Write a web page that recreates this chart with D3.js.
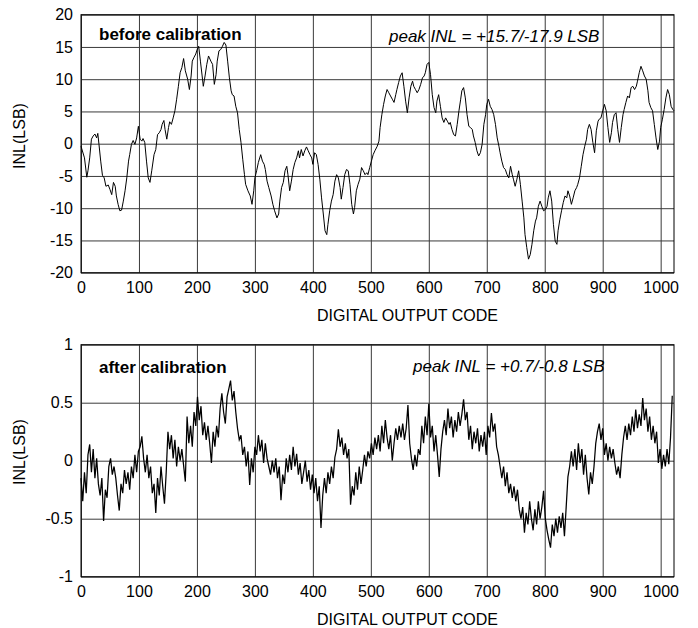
<!DOCTYPE html>
<html>
<head>
<meta charset="utf-8">
<script src="https://cdn.jsdelivr.net/npm/d3@7"></script>
<style>
  body { margin: 0; background: #fff; }
  svg { display: block; font-family: "Liberation Sans", Arial, sans-serif; }
</style>
</head>
<body>
<svg id="chart" width="698" height="628"></svg>
<script>
// INL before calibration, [code, LSB]
var beforeCal = [
  [0,-0.4],[6,-2.2],[10,-5.2],[12,-4.2],[15,-2.2],[18,0.7],[21,1.2],[24,1.5],[27,0.9],[29,1.6],
  [31,-0.1],[34,-2.7],[37,-4.9],[40,-5.3],[43,-6.6],[47,-6.4],[50,-7.1],[53,-7.9],[56,-6.0],[59,-6.6],
  [61,-8.1],[64,-9.4],[67,-10.4],[70,-10.3],[73,-8.9],[76,-7.3],[79,-5.3],[82,-2.7],[84,-1.7],[87,-0.1],
  [90,0.5],[93,-0.1],[96,0.9],[99,2.7],[102,0.7],[105,0.4],[107,0.8],[110,0.2],[113,-2.7],[116,-5.3],
  [119,-6.0],[122,-4.2],[126,-1.7],[129,-0.9],[132,1.4],[135,1.7],[138,2.2],[140,3.0],[143,3.6],[145,2.2],
  [148,0.7],[151,2.5],[153,3.4],[156,3.0],[159,4.0],[162,5.1],[165,6.9],[168,8.9],[171,11.0],[174,11.8],
  [177,13.2],[180,11.3],[184,10.0],[187,8.4],[190,10.5],[192,12.8],[195,13.4],[198,13.9],[200,14.5],[203,15.1],
  [206,12.8],[209,10.5],[211,8.9],[214,10.5],[217,12.3],[220,13.6],[224,12.8],[227,12.3],[230,9.2],[233,10.7],
  [235,12.8],[238,14.4],[241,14.6],[244,15.1],[247,15.7],[250,15.3],[253,12.8],[256,10.2],[259,8.2],[261,7.6],
  [264,7.4],[267,5.8],[270,4.8],[273,2.2],[276,0.2],[279,-2.4],[282,-4.8],[284,-6.3],[288,-7.3],[292,-8.1],
  [295,-9.4],[298,-7.3],[300,-5.3],[303,-4.2],[306,-2.9],[310,-1.7],[313,-2.7],[316,-3.2],[318,-4.0],[321,-5.8],
  [324,-6.8],[328,-8.1],[331,-9.4],[334,-10.4],[338,-11.5],[341,-10.9],[343,-8.9],[346,-6.8],[349,-6.0],[352,-4.2],
  [355,-3.5],[357,-4.8],[360,-7.3],[363,-5.8],[366,-4.0],[369,-2.9],[372,-2.2],[375,-1.1],[377,-2.2],[380,-0.9],
  [383,-1.9],[386,-1.1],[389,-0.5],[392,-1.1],[395,-1.7],[398,-2.2],[400,-3.2],[403,-1.4],[406,-1.7],[409,-3.2],
  [412,-5.5],[415,-8.4],[418,-10.9],[421,-13.5],[424,-14.1],[426,-12.5],[429,-10.4],[432,-8.9],[435,-7.9],[438,-5.8],
  [441,-4.8],[444,-5.3],[447,-6.8],[449,-8.6],[452,-6.8],[455,-4.8],[458,-4.0],[461,-4.2],[464,-6.3],[467,-9.4],
  [470,-10.9],[472,-9.9],[475,-7.3],[478,-6.3],[481,-5.5],[484,-3.7],[487,-4.2],[490,-4.8],[493,-4.5],[495,-4.8],
  [498,-3.7],[501,-2.7],[504,-1.7],[507,-1.1],[511,-0.4],[514,0.4],[516,2.5],[519,4.5],[522,6.1],[525,7.4],
  [528,8.4],[531,7.9],[534,7.4],[537,6.9],[540,6.4],[543,7.6],[545,8.4],[548,9.5],[551,10.5],[554,11.0],
  [557,8.9],[560,6.6],[563,4.8],[566,7.1],[569,8.9],[572,9.7],[574,8.9],[577,8.4],[580,7.9],[583,8.4],
  [586,9.2],[589,10.2],[592,10.5],[594,11.0],[597,12.3],[600,12.6],[603,10.7],[606,7.6],[609,5.6],[612,4.8],
  [614,6.6],[617,7.6],[620,5.8],[623,4.0],[626,3.3],[629,4.0],[632,3.5],[635,3.0],[637,3.3],[640,2.2],
  [643,1.4],[646,1.2],[649,3.0],[652,5.1],[655,6.9],[657,8.2],[660,8.7],[663,7.1],[666,4.5],[669,2.7],
  [672,2.5],[675,2.2],[677,1.2],[680,0.2],[683,-1.1],[686,-1.9],[689,-1.4],[692,-0.1],[695,3.0],[698,4.5],
  [700,6.1],[703,6.9],[706,5.8],[709,5.3],[712,4.5],[715,3.0],[718,0.9],[721,-0.4],[723,-1.4],[726,-2.7],
  [729,-3.7],[732,-4.0],[735,-4.8],[738,-5.3],[741,-3.5],[744,-4.8],[746,-5.5],[749,-6.6],[752,-5.5],[755,-4.2],
  [758,-6.3],[761,-8.9],[764,-11.5],[766,-14.1],[769,-16.1],[772,-17.9],[775,-17.2],[778,-15.6],[781,-13.5],[784,-12.0],
  [786,-11.5],[789,-9.7],[792,-8.9],[795,-9.7],[798,-10.4],[801,-10.2],[804,-9.7],[806,-8.4],[809,-7.3],[812,-8.9],
  [815,-12.5],[818,-15.1],[821,-15.6],[823,-13.5],[826,-11.8],[829,-10.4],[832,-9.1],[835,-8.1],[838,-8.4],[840,-7.3],
  [843,-8.1],[846,-9.4],[849,-8.4],[852,-7.3],[855,-6.8],[857,-6.3],[860,-5.3],[863,-3.5],[866,-1.7],[869,-0.4],
  [872,0.7],[874,2.2],[877,3.0],[880,2.2],[883,0.2],[886,-1.4],[889,2.0],[892,3.5],[894,3.8],[897,4.0],
  [900,5.1],[903,6.1],[906,5.1],[909,2.5],[912,0.2],[915,1.7],[917,3.3],[920,4.5],[923,4.8],[926,2.2],
  [929,0.2],[932,2.5],[935,4.5],[937,5.3],[940,6.4],[943,7.4],[946,7.1],[949,8.7],[952,8.9],[955,8.4],
  [958,8.9],[960,9.7],[963,11.0],[966,12.0],[969,11.3],[972,10.5],[975,10.0],[978,8.2],[980,6.4],[983,5.6],
  [986,5.1],[989,3.0],[992,0.9],[995,-0.9],[998,0.4],[1000,2.5],[1003,3.8],[1006,5.3],[1009,7.1],[1012,8.4],
  [1015,7.6],[1018,5.8],[1021,5.3],[1023,5.1]
];

// INL after calibration, one value every 3 codes (0, 3, 6, ...)
var afterStep = 3;
var afterCal = [
  -0.15,-0.35,-0.10,-0.28,0.05,0.14,-0.10,0.10,-0.15,0.02,
  -0.20,-0.30,-0.15,-0.52,-0.25,-0.32,-0.05,0.02,-0.12,-0.05,
  -0.15,-0.30,-0.43,-0.20,-0.28,-0.08,-0.20,-0.10,-0.25,-0.05,
  -0.15,0.05,-0.10,0.08,0.12,0.21,0.02,-0.10,0.05,-0.15,
  -0.05,-0.28,-0.20,-0.45,-0.15,-0.30,-0.05,-0.22,-0.37,-0.10,
  0.25,0.10,0.22,0.02,0.18,-0.05,0.12,0.00,0.10,-0.04,
  -0.18,0.38,0.15,0.30,0.12,0.42,0.30,0.55,0.35,0.47,
  0.22,0.33,0.18,0.30,0.15,-0.02,0.25,0.12,0.30,0.20,
  0.45,0.58,0.42,0.32,0.55,0.62,0.69,0.52,0.60,0.42,
  0.28,0.18,0.22,0.05,0.12,-0.05,0.08,-0.21,0.02,-0.10,
  0.12,0.05,0.22,0.08,0.18,-0.02,0.15,0.02,-0.05,-0.12,
  0.00,-0.10,0.02,-0.15,-0.05,-0.34,-0.12,-0.20,0.02,-0.10,
  0.05,-0.08,0.12,-0.05,0.06,-0.12,-0.02,-0.20,-0.10,0.00,
  -0.18,-0.08,-0.25,-0.12,-0.28,-0.15,-0.35,-0.22,-0.58,-0.30,
  -0.15,-0.28,-0.10,-0.20,-0.05,-0.15,0.03,0.10,0.27,0.12,
  0.20,0.05,0.15,0.02,0.10,-0.38,-0.22,-0.30,-0.10,-0.25,
  -0.05,-0.20,-0.08,0.05,-0.05,0.08,0.02,0.15,0.05,0.20,
  0.10,0.22,0.08,0.30,0.15,0.35,0.20,0.10,0.22,0.00,
  0.15,0.28,0.18,0.30,0.20,0.32,0.18,0.28,0.48,0.15,
  0.02,-0.08,0.05,-0.05,0.10,0.05,0.30,0.15,0.38,0.22,
  0.49,0.20,0.30,0.08,0.22,0.05,-0.14,0.10,0.25,0.35,
  0.22,0.45,0.28,0.38,0.20,0.35,0.25,0.42,0.30,0.40,
  0.53,0.35,0.42,0.18,0.30,0.10,0.25,0.15,0.28,0.08,
  0.22,0.12,0.25,0.05,0.30,0.20,0.41,0.25,0.32,0.12,
  0.05,-0.05,-0.15,-0.05,-0.22,-0.10,-0.28,-0.20,-0.32,-0.22,
  -0.35,-0.25,-0.42,-0.50,-0.40,-0.62,-0.45,-0.55,-0.35,-0.50,
  -0.60,-0.42,-0.55,-0.35,-0.50,-0.40,-0.26,-0.50,-0.60,-0.68,
  -0.75,-0.55,-0.65,-0.50,-0.62,-0.48,-0.58,-0.45,-0.65,-0.40,
  -0.14,-0.05,0.08,-0.05,0.10,-0.08,0.15,-0.02,0.10,-0.12,
  0.05,-0.15,-0.29,-0.10,-0.20,-0.05,0.15,0.25,0.32,0.18,
  0.28,0.05,0.15,0.00,0.12,0.02,0.10,-0.02,-0.12,-0.05,
  -0.15,0.05,0.20,0.30,0.18,0.32,0.22,0.38,0.25,0.44,
  0.28,0.40,0.30,0.54,0.35,0.45,0.25,0.38,0.18,0.30,
  0.15,0.25,-0.02,0.10,-0.07,0.05,-0.05,0.10,-0.03,0.20,
  0.56
];

var xTicks = [0,100,200,300,400,500,600,700,800,900,1000];
var yTicksTop = [-20,-15,-10,-5,0,5,10,15,20];
var yTicksBot = [-1,-0.5,0,0.5,1];

var svg = d3.select("#chart");

// plot box (same horizontal extent for both panels)
var left = 81, right = 674;

function panel(top, bottom, yDomain, yTicks, pts, lineW, title, peakText, titleY, peakX, peakY, yLabelY) {
  var x = d3.scaleLinear().domain([0, 1023]).range([left, right]);
  var y = d3.scaleLinear().domain(yDomain).range([bottom, top]);
  var w = right - left, h = bottom - top;

  var gx = svg.append("g")
    .attr("transform", "translate(0," + bottom + ")")
    .call(d3.axisBottom(x).tickValues(xTicks).tickSizeInner(-h).tickSizeOuter(0).tickPadding(9)
      .tickFormat(function(d) { return String(d); }));
  var gy = svg.append("g")
    .attr("transform", "translate(" + left + ",0)")
    .call(d3.axisLeft(y).tickValues(yTicks).tickSizeInner(-w).tickSizeOuter(0).tickPadding(8)
      .tickFormat(function(d) { return String(d); }));

  [gx, gy].forEach(function(g) {
    g.select(".domain").remove();
    g.selectAll(".tick line").attr("stroke", "#3a3a3a").attr("stroke-width", 1);
    g.selectAll(".tick text").attr("fill", "#000").style("font-size", "16px")
      .style("font-family", "'Liberation Sans', Arial, sans-serif");
  });

  svg.append("rect")
    .attr("x", left).attr("y", top).attr("width", w).attr("height", h)
    .attr("fill", "none").attr("stroke", "#000").attr("stroke-width", 1);

  var line = d3.line()
    .x(function(d) { return x(d[0]); })
    .y(function(d) { return y(d[1]); });

  svg.append("path")
    .datum(pts)
    .attr("d", line)
    .attr("fill", "none")
    .attr("stroke", "#000")
    .attr("stroke-width", lineW);

  svg.append("text")
    .attr("x", 99).attr("y", titleY)
    .style("font-size", "17px").style("font-weight", "bold")
    .text(title);

  svg.append("text")
    .attr("x", peakX).attr("y", peakY)
    .style("font-size", "17px").style("font-style", "italic")
    .text(peakText);

  svg.append("text")
    .attr("x", (left + right) / 2 + 30).attr("y", bottom + 48)
    .attr("text-anchor", "middle")
    .style("font-size", "16px")
    .text("DIGITAL OUTPUT CODE");

  svg.append("text")
    .attr("transform", "translate(25," + yLabelY + ") rotate(-90)")
    .attr("text-anchor", "middle")
    .style("font-size", "16px")
    .text("INL(LSB)");
}

var afterPts = afterCal.map(function(v, i) { return [i * afterStep, v]; });

panel(14.7, 272.7, [-20, 20], yTicksTop, beforeCal, 1,
  "before calibration", "peak INL = +15.7/-17.9 LSB", 40, 389, 41.5, 136);
panel(344.7, 576.7, [-1, 1], yTicksBot, afterPts, 1.25,
  "after calibration", "peak INL = +0.7/-0.8 LSB", 373, 413, 372, 452);
</script>
</body>
</html>
